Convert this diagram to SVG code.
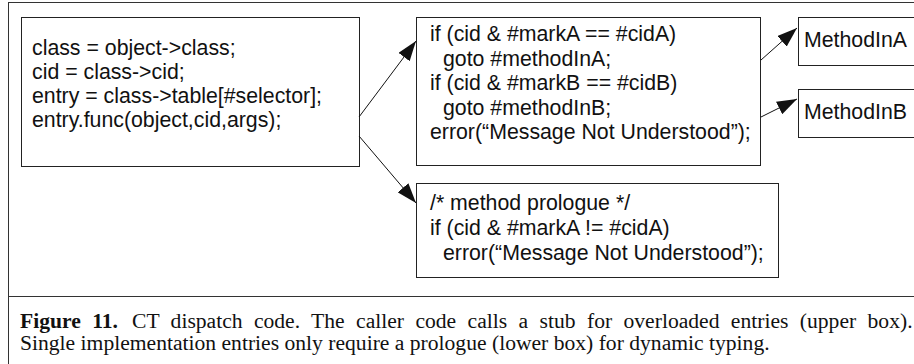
<svg xmlns="http://www.w3.org/2000/svg" width="914" height="364" viewBox="0 0 914 364">
  <style>
    .box { fill: #ffffff; stroke: #222222; stroke-width: 1; }
    .code { font-family: "Liberation Sans", Arial, Helvetica, sans-serif; font-size: 21.3px; fill: #111111; }
    .edge { stroke: #111111; stroke-width: 1; fill: none; marker-end: url(#head); }
    .cap { font-family: "Liberation Serif", "Times New Roman", serif; font-size: 21.6px; fill: #111111; }
    .frame { fill: none; stroke: #333333; stroke-width: 1; }
  </style>
  <defs>
    <marker id="head" markerUnits="userSpaceOnUse" markerWidth="20" markerHeight="14" refX="20" refY="7" orient="auto">
      <path d="M0,0 L20,7 L0,14 z" fill="#111111"/>
    </marker>
  </defs>

  <rect width="914" height="364" fill="#ffffff"/>

  <!-- figure frame and caption divider -->
  <g id="frame">
    <rect class="frame" x="8.5" y="2.5" width="920" height="380"/>
    <line class="frame" x1="8" y1="296.5" x2="914" y2="296.5"/>
  </g>

  <!-- caller code -->
  <g id="caller">
    <rect class="box" x="21.5" y="17.5" width="338" height="149"/>
    <text class="code" x="32" y="54.5">class = object-&gt;class;</text>
    <text class="code" x="32" y="78.5">cid = class-&gt;cid;</text>
    <text class="code" x="32" y="102.5">entry = class-&gt;table[#selector];</text>
    <text class="code" x="32" y="126.5">entry.func(object,cid,args);</text>
  </g>

  <!-- dispatch stub for overloaded entries -->
  <g id="stub">
    <rect class="box" x="416.5" y="17.5" width="344" height="148"/>
    <text class="code" x="430" y="41">if (cid &amp; #markA == #cidA)</text>
    <text class="code" x="443" y="65.5">goto #methodInA;</text>
    <text class="code" x="430" y="90">if (cid &amp; #markB == #cidB)</text>
    <text class="code" x="443" y="114.5">goto #methodInB;</text>
    <text class="code" x="430" y="138.5">error(“Message Not Understood”);</text>
  </g>

  <!-- prologue for single implementation entries -->
  <g id="prologue">
    <rect class="box" x="416.5" y="183.5" width="362" height="94"/>
    <text class="code" x="430" y="210">/* method prologue */</text>
    <text class="code" x="430" y="235">if (cid &amp; #markA != #cidA)</text>
    <text class="code" x="443" y="260">error(“Message Not Understood”);</text>
  </g>

  <g id="methodInA">
    <rect class="box" x="798.5" y="17.5" width="130" height="48"/>
    <text class="code" x="804" y="47">MethodInA</text>
  </g>

  <g id="methodInB">
    <rect class="box" x="798.5" y="89.5" width="130" height="48"/>
    <text class="code" x="804" y="119">MethodInB</text>
  </g>

  <!-- connectors -->
  <g id="connectors">
    <line class="edge" x1="359" y1="117" x2="416" y2="41"/>
    <line class="edge" x1="359" y1="136" x2="416" y2="203"/>
    <line class="edge" x1="761" y1="60" x2="797" y2="28"/>
    <line class="edge" x1="761" y1="117" x2="797" y2="99"/>
  </g>

  <!-- caption: first line justified to the full width -->
  <g id="caption">
    <text class="cap" x="20" y="328" word-spacing="6"><tspan font-weight="bold">Figure 11.</tspan><tspan dx="14">CT dispatch code. The caller code calls a stub for overloaded entries (upper box).</tspan></text>
    <text class="cap" x="20" y="350">Single implementation entries only require a prologue (lower box) for dynamic typing.</text>
  </g>
</svg>
